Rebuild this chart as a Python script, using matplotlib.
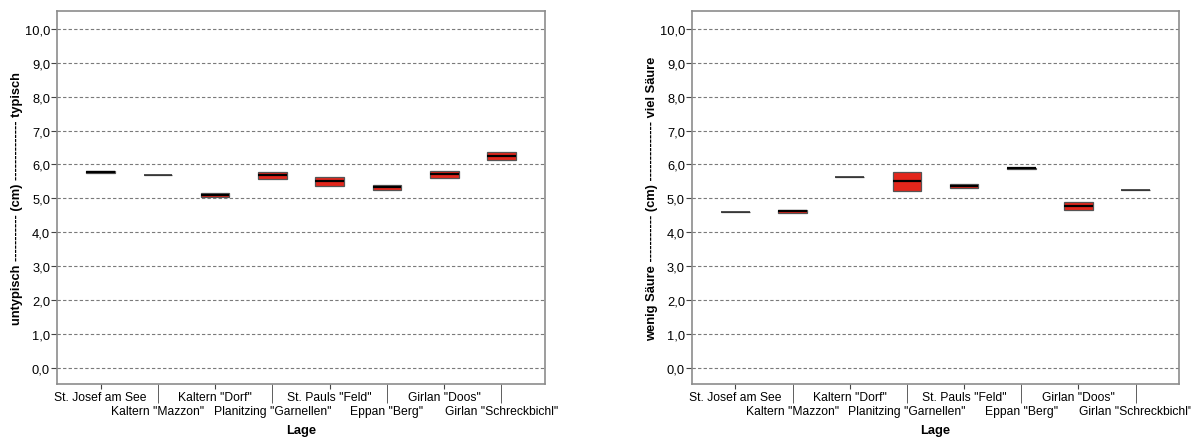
import matplotlib.pyplot as plt
from matplotlib.ticker import FuncFormatter

plt.rcParams['font.family'] = ['Liberation Sans', 'DejaVu Sans']

# categories (Lage)
lagen = ['St. Josef am See', 'Kaltern "Mazzon"', 'Kaltern "Dorf"', 'Planitzing "Garnellen"',
         'St. Pauls "Feld"', 'Eppan "Berg"', 'Girlan "Doos"', 'Girlan "Schreckbichl"']

# left panel: typicity (q1, median, q3)
typ_q1 = [5.75, 5.68, 5.03, 5.57, 5.37, 5.24, 5.60, 6.12]
typ_med = [5.78, 5.68, 5.09, 5.68, 5.51, 5.33, 5.72, 6.24]
typ_q3 = [5.80, 5.68, 5.16, 5.79, 5.63, 5.40, 5.82, 6.36]

# right panel: acidity (q1, median, q3)
sae_q1 = [4.60, 4.57, 5.64, 5.23, 5.30, 5.87, 4.65, 5.26]
sae_med = [4.60, 4.62, 5.64, 5.51, 5.37, 5.89, 4.78, 5.26]
sae_q3 = [4.60, 4.66, 5.64, 5.79, 5.42, 5.91, 4.90, 5.26]

ylabels = ['untypisch ----------- (cm) -------------- typisch',
           'wenig Säure ----------- (cm) -------------- viel Säure']

fig = plt.figure(figsize=(11.91, 4.39), dpi=100)
ax1 = fig.add_axes([0.0479, 0.123, 0.4097, 0.8497])
ax2 = fig.add_axes([0.581, 0.123, 0.4089, 0.8497])


def draw(ax, q1, med, q3, ylab):
    stats = []
    for a, m, b in zip(q1, med, q3):
        stats.append({'q1': a, 'med': m, 'q3': b, 'whislo': a, 'whishi': b, 'fliers': []})
    parts = ax.bxp(stats, positions=range(len(stats)), widths=0.5, patch_artist=True,
                   showcaps=False, showfliers=False,
                   boxprops=dict(facecolor='#e3261b', edgecolor='#555555', linewidth=0.9),
                   medianprops=dict(color='black', linewidth=1.6),
                   whiskerprops=dict(linewidth=0), manage_ticks=False, zorder=3)
    # boxes with no spread only show as a thin dark line
    for line, a, b in zip(parts['medians'], q1, q3):
        if a == b:
            line.set_color('#333333')
            line.set_linewidth(1.2)

    ax.set_xlim(-0.76, 7.76)
    ax.set_ylim(-0.48, 10.53)
    ax.set_yticks(range(0, 11))
    ax.yaxis.set_major_formatter(FuncFormatter(lambda v, p: f"{v:.1f}".replace('.', ',')))
    ax.yaxis.grid(True, linestyle=(0, (3, 2)), color='#7a7a7a', linewidth=0.8)
    ax.set_axisbelow(True)

    even = list(range(0, 8, 2))
    odd = list(range(1, 8, 2))
    ax.set_xticks(even, [lagen[i] for i in even])
    ax.set_xticks(odd, [lagen[i] for i in odd], minor=True)
    ax.tick_params(axis='x', which='major', length=3.8, pad=1, labelsize=8.7,
                   color='#444444')
    ax.tick_params(axis='x', which='minor', length=13.8, pad=1.2, labelsize=8.7,
                   color='#444444')
    ax.tick_params(axis='y', length=4, pad=1, labelsize=9.3, color='#444444')

    for s in ax.spines.values():
        s.set_color('#8c8c8c')
        s.set_linewidth(1.2)

    ax.set_xlabel('Lage', fontsize=9.3, fontweight='bold', labelpad=5)
    ax.set_ylabel(ylab, fontsize=9.3, fontweight='bold', labelpad=1)


draw(ax1, typ_q1, typ_med, typ_q3, ylabels[0])
draw(ax2, sae_q1, sae_med, sae_q3, ylabels[1])

fig.savefig('out.png', dpi=100)
